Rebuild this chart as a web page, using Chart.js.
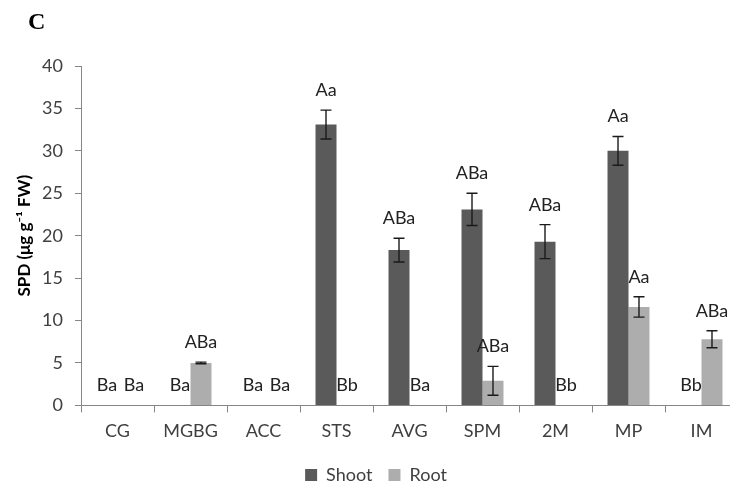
<!DOCTYPE html>
<html>
<head>
<meta charset="utf-8">
<script src="https://cdn.jsdelivr.net/npm/chart.js@4/dist/chart.umd.min.js"></script>
<style>
  html, body { margin: 0; padding: 0; background: #fff; overflow: hidden; width: 730px; height: 486px; }
  #wrap { position: relative; width: 740px; height: 496px; }
  #panel { position: absolute; left: 28px; top: 9px; font: bold 24px "Liberation Serif", serif; line-height: 1; color: #000; }
</style>
</head>
<body>
<div id="wrap">
  <canvas id="c" width="740" height="496"></canvas>
  <div id="panel">C</div>
</div>
<script>
// Treatments on the x axis
const categories = ['CG', 'MGBG', 'ACC', 'STS', 'AVG', 'SPM', '2M', 'MP', 'IM'];

// SPD content (µg g-1 FW), means and standard errors
const shootValues = [0, 0, 0, 33.1, 18.3, 23.1, 19.3, 30.0, 0];
const shootErrors = [0, 0, 0, 1.7, 1.4, 1.9, 2.0, 1.7, 0];
const rootValues  = [0, 5.0, 0, 0, 0, 2.9, 0, 11.6, 7.8];
const rootErrors  = [0, 0.1, 0, 0, 0, 1.7, 0, 1.2, 1.0];

// Significance letters shown over each bar
const shootLetters = ['Ba', 'Ba', 'Ba', 'Aa', 'ABa', 'ABa', 'ABa', 'Aa', 'Bb'];
const rootLetters  = ['Ba', 'ABa', 'Ba', 'Bb', 'Ba', 'ABa', 'Bb', 'Aa', 'ABa'];

// Y axis range
const yMin = 0, yMax = 40, yStep = 5;

const valuesBySet = [shootValues, rootValues];
const errorsBySet = [shootErrors, rootErrors];
const lettersBySet = [shootLetters, rootLetters];

// Draws error bars and the letter labels above each bar
const barDecorations = {
  id: 'barDecorations',
  afterDatasetsDraw(chart) {
    const ctx = chart.ctx;
    const y = chart.scales.y;
    ctx.save();
    chart.data.datasets.forEach((ds, i) => {
      const meta = chart.getDatasetMeta(i);
      meta.data.forEach((bar, j) => {
        const v = ds.data[j];
        const e = errorsBySet[i][j];
        let x = bar.x;
        if (e > 0) {
          const yt = y.getPixelForValue(v + e);
          const yb = y.getPixelForValue(v - e);
          ctx.strokeStyle = '#1a1a1a';
          ctx.lineWidth = 1.4;
          ctx.beginPath();
          ctx.moveTo(x, yt); ctx.lineTo(x, yb);
          ctx.moveTo(x - 5.5, yt); ctx.lineTo(x + 5.5, yt);
          ctx.moveTo(x - 5.5, yb); ctx.lineTo(x + 5.5, yb);
          ctx.stroke();
        }
        // keep two labels on empty bars of the same group from touching
        if (i === 1 && v === 0 && valuesBySet[0][j] === 0) x += 6;
        const top = y.getPixelForValue(v + e);
        ctx.fillStyle = '#222';
        ctx.font = '18px Lato, sans-serif';
        ctx.textAlign = 'center';
        ctx.textBaseline = 'alphabetic';
        ctx.fillText(lettersBySet[i][j], x, top - 14);
      });
    });
    ctx.restore();
  }
};

new Chart(document.getElementById('c'), {
  type: 'bar',
  data: {
    labels: categories,
    datasets: [
      { label: 'Shoot', data: shootValues, backgroundColor: '#5a5a5a', borderWidth: 0 },
      { label: 'Root',  data: rootValues,  backgroundColor: '#adadad', borderWidth: 0 }
    ]
  },
  options: {
    responsive: false,
    animation: false,
    devicePixelRatio: 1,
    datasets: { bar: { categoryPercentage: 0.575, barPercentage: 1.0 } },
    layout: { padding: { left: 14, top: 66, right: 2, bottom: 2 } },
    plugins: {
      tooltip: { enabled: false },
      legend: {
        position: 'bottom',
        labels: {
          boxWidth: 12, boxHeight: 12, padding: 16,
          color: '#404040',
          font: { family: 'Lato, sans-serif', size: 18 }
        }
      }
    },
    scales: {
      x: {
        grid: { offset: true, drawOnChartArea: false, tickLength: 7, color: '#868686' },
        border: { color: '#868686', width: 1 },
        ticks: { color: '#404040', padding: 8, font: { family: 'Lato, sans-serif', size: 18 } }
      },
      y: {
        min: yMin, max: yMax,
        afterFit(scale) { scale.width = 67; },
        grid: { drawOnChartArea: false, tickLength: 6, color: '#868686' },
        border: { color: '#868686', width: 1 },
        ticks: { stepSize: yStep, color: '#404040', padding: 12, font: { family: 'Lato, sans-serif', size: 18 } },
        title: {
          display: true,
          text: 'SPD (μg g⁻¹ FW)',
          color: '#000',
          padding: { top: 0, bottom: 0 },
          font: { family: 'Lato, sans-serif', size: 17, weight: 'bold' }
        }
      }
    }
  },
  plugins: [barDecorations]
});
</script>
</body>
</html>
